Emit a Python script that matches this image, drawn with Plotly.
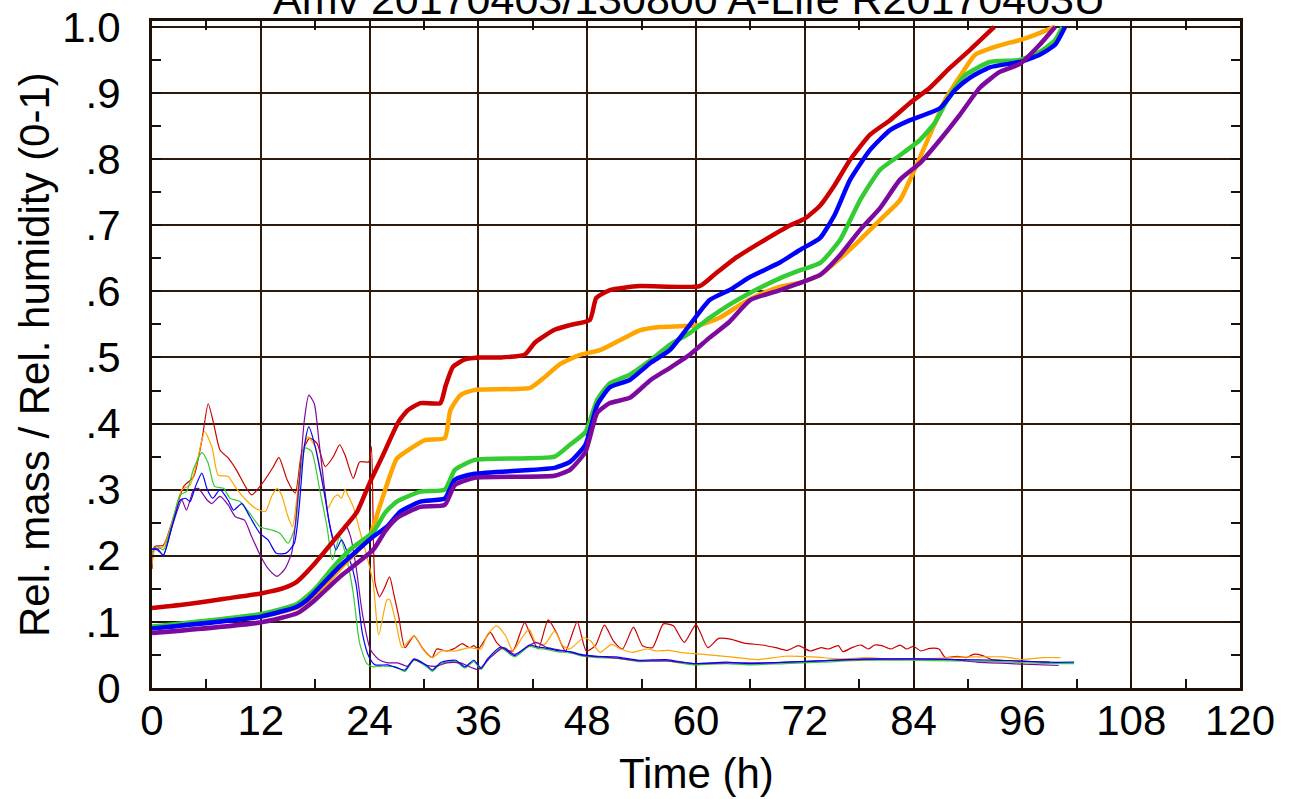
import plotly.graph_objects as go

# ---------------- data ----------------
# Relative mass (thick lines)
t_red_mass = [0, 4, 8, 12, 14.5, 16, 17.8, 20.7, 22.6, 24, 25.4, 27.2, 28.2, 29.6, 31.8, 32.4, 33.2, 34.5, 36, 38.4, 41.1, 42.2, 43, 44.4, 46.1, 48.3, 49, 50.5, 53.8, 60.4, 62, 64.3, 67, 70.4, 72, 73.7, 75.3, 77, 79.2, 81.4, 83.6, 85.8, 88, 90.2, 92.9]
red_mass = [0.121, 0.127, 0.135, 0.143, 0.151, 0.161, 0.186, 0.234, 0.266, 0.31, 0.35, 0.403, 0.42, 0.431, 0.431, 0.458, 0.486, 0.497, 0.5, 0.5, 0.504, 0.522, 0.53, 0.542, 0.549, 0.557, 0.59, 0.602, 0.608, 0.608, 0.625, 0.65, 0.673, 0.70, 0.71, 0.73, 0.761, 0.799, 0.837, 0.859, 0.885, 0.908, 0.938, 0.965, 1.0]

t_orange_mass = [0, 12, 16, 18, 20.7, 22.5, 24, 25.1, 27, 28.5, 30.1, 32.3, 32.9, 34, 35.6, 41.7, 43.3, 45, 47.2, 49.4, 51.6, 53.8, 56, 60.4, 62.6, 64.9, 67, 69.3, 71.5, 73.7, 75.9, 78.1, 80.3, 82.5, 84.1, 85.8, 87.5, 89.1, 90.8, 93.5, 95.7, 97.4, 99.6]
orange_mass = [0.091, 0.108, 0.122, 0.14, 0.18, 0.205, 0.229, 0.274, 0.347, 0.362, 0.375, 0.378, 0.42, 0.443, 0.451, 0.454, 0.47, 0.49, 0.504, 0.511, 0.526, 0.541, 0.546, 0.549, 0.56, 0.58, 0.595, 0.607, 0.613, 0.625, 0.65, 0.678, 0.708, 0.738, 0.784, 0.837, 0.89, 0.925, 0.958, 0.972, 0.98, 0.988, 1.0]

t_green_mass = [0, 12, 16, 18, 20, 22, 24.4, 25.7, 27, 29.6, 32.3, 33.4, 35.6, 44.4, 46.1, 47.8, 49.1, 50.5, 52.7, 55, 57.1, 59.3, 61.5, 63.7, 66, 69.3, 71.5, 73.7, 75.9, 78.1, 80.3, 82.5, 84.7, 86.4, 88, 89.7, 92.4, 95.7, 97.9, 99.6, 100.4]
green_mass = [0.093, 0.112, 0.127, 0.15, 0.183, 0.211, 0.236, 0.265, 0.282, 0.297, 0.3, 0.33, 0.345, 0.35, 0.368, 0.387, 0.436, 0.461, 0.474, 0.496, 0.519, 0.537, 0.56, 0.58, 0.598, 0.62, 0.632, 0.643, 0.678, 0.738, 0.784, 0.806, 0.829, 0.856, 0.897, 0.927, 0.947, 0.95, 0.962, 0.98, 1.0]

t_blue_mass = [0, 12, 16, 17.1, 20.7, 24.4, 25.9, 27.4, 29.6, 32.3, 33.4, 35.6, 44.4, 46.1, 47.8, 49.1, 50.5, 52.7, 55, 57.1, 59.3, 61.5, 63.7, 66, 69.3, 71.5, 73.7, 75.3, 77, 79.2, 81.4, 83.6, 86.9, 88.6, 90.2, 92.4, 95.7, 97.9, 99.6, 100.7]
blue_mass = [0.09, 0.108, 0.123, 0.133, 0.184, 0.229, 0.244, 0.267, 0.282, 0.287, 0.315, 0.324, 0.333, 0.342, 0.368, 0.428, 0.455, 0.466, 0.492, 0.511, 0.549, 0.587, 0.602, 0.622, 0.644, 0.663, 0.681, 0.716, 0.769, 0.814, 0.844, 0.859, 0.877, 0.905, 0.923, 0.939, 0.947, 0.958, 0.973, 1.0]

t_purple_mass = [0, 11.9, 16, 17.8, 20.7, 24.4, 25.7, 27, 29.6, 32.3, 33.4, 35.6, 44.4, 46.1, 47.8, 49.1, 50.5, 52.7, 55, 57.1, 59.3, 61.5, 63.7, 66, 69.3, 71.5, 73.7, 75.9, 78.1, 80.3, 82.5, 84.7, 86.9, 89.1, 91.3, 93.5, 95.7, 97.9, 99.6]
purple_mass = [0.083, 0.099, 0.113, 0.131, 0.168, 0.209, 0.237, 0.257, 0.274, 0.277, 0.307, 0.318, 0.321, 0.33, 0.357, 0.416, 0.431, 0.439, 0.466, 0.484, 0.504, 0.53, 0.554, 0.587, 0.602, 0.613, 0.625, 0.655, 0.693, 0.726, 0.769, 0.794, 0.829, 0.867, 0.908, 0.932, 0.944, 0.973, 1.0]

# Relative humidity (thin lines)
t_red_rh = [0, 0.3, 1.25, 2.4, 3.5, 4.6, 5.5, 6.2, 6.8, 7.5, 8.4, 9.3, 10.3, 11, 12.3, 13.4, 14, 14.9, 15.8, 16.5, 17.4, 18.2, 19.1, 20, 20.7, 21.3, 22.2, 22.9, 23.9, 24.2, 24.6, 25.1, 25.6, 26.2, 26.7, 27.2, 27.9, 28.9, 29.9, 30.9, 31.4, 32.5, 33.5, 34.2, 35, 35.5, 36, 37.3, 38, 38.8, 39.8, 41.1, 41.8, 42.6, 43.7, 44.6, 45.6, 46.9, 47.9, 48.9, 49.9, 50.9, 51.9, 53.1, 54.1, 55.2, 56.4, 57.5, 58.7, 60, 61.3, 62.5, 63.8, 65.3, 67.3, 68.8, 70.1, 71.3, 72.6, 73.8, 74.6, 75.7, 76.2, 77.2, 78.2, 79, 79.7, 80.5, 81.5, 82.5, 83.2, 84, 84.8, 85.8, 86.8, 87.5, 88.8, 89.8, 90.6, 91.6, 92.6, 95.1, 97.1, 99]
red_rh = [0.18, 0.214, 0.216, 0.26, 0.305, 0.32, 0.375, 0.43, 0.40, 0.36, 0.348, 0.33, 0.305, 0.292, 0.312, 0.335, 0.349, 0.315, 0.295, 0.355, 0.378, 0.37, 0.335, 0.35, 0.368, 0.352, 0.317, 0.342, 0.342, 0.365, 0.159, 0.138, 0.15, 0.168, 0.14, 0.109, 0.061, 0.079, 0.059, 0.046, 0.059, 0.056, 0.061, 0.067, 0.061, 0.064, 0.059, 0.084, 0.069, 0.059, 0.056, 0.099, 0.079, 0.059, 0.103, 0.084, 0.056, 0.1, 0.056, 0.064, 0.095, 0.071, 0.059, 0.092, 0.064, 0.061, 0.097, 0.094, 0.069, 0.096, 0.061, 0.075, 0.074, 0.068, 0.065, 0.061, 0.057, 0.064, 0.056, 0.061, 0.059, 0.064, 0.055, 0.061, 0.065, 0.059, 0.065, 0.064, 0.059, 0.065, 0.059, 0.063, 0.056, 0.06, 0.059, 0.046, 0.048, 0.046, 0.051, 0.049, 0.043, 0.041, 0.040, 0.039]

t_orange_rh = [0, 0.3, 1.25, 2.4, 3.3, 4.2, 5.1, 5.8, 6.6, 7.3, 8.4, 9.3, 10.4, 11.4, 12.5, 13.2, 13.8, 14.3, 15, 15.5, 16, 16.5, 17.2, 18, 18.7, 19.4, 20, 20.5, 20.9, 21.3, 21.6, 22.2, 22.9, 23.7, 24.4, 25, 25.9, 26.2, 26.9, 27.6, 28.9, 29.9, 30.9, 31.9, 33.5, 35, 36.3, 37, 38, 39, 39.8, 40.8, 41.6, 42.3, 43.3, 44.4, 45.3, 46.1, 47.6, 48.4, 49.4, 50.7, 51.7, 53, 54.5, 55.7, 57, 58.2, 60.8, 63.8, 66.8, 69.8, 72.9, 75.9, 78.9, 81.9, 84.9, 88, 91, 94, 96, 98.2, 100.2]
orange_rh = [0.186, 0.209, 0.214, 0.259, 0.3, 0.307, 0.35, 0.388, 0.365, 0.322, 0.32, 0.302, 0.284, 0.272, 0.267, 0.29, 0.302, 0.292, 0.259, 0.244, 0.29, 0.35, 0.38, 0.365, 0.32, 0.272, 0.287, 0.292, 0.287, 0.3, 0.292, 0.274, 0.239, 0.199, 0.158, 0.08, 0.133, 0.134, 0.099, 0.061, 0.079, 0.059, 0.046, 0.056, 0.056, 0.061, 0.059, 0.081, 0.094, 0.079, 0.056, 0.076, 0.089, 0.069, 0.066, 0.086, 0.064, 0.059, 0.076, 0.071, 0.054, 0.066, 0.059, 0.054, 0.059, 0.056, 0.057, 0.054, 0.051, 0.047, 0.043, 0.048, 0.047, 0.044, 0.046, 0.043, 0.044, 0.046, 0.047, 0.047, 0.043, 0.046, 0.046]

t_green_rh = [0, 0.5, 1.25, 2.2, 3.1, 3.8, 4.6, 5.5, 6.2, 6.9, 7.9, 8.6, 9.7, 10.8, 11.9, 13.2, 14.1, 15, 15.8, 16.3, 16.9, 17.6, 18.5, 19.3, 19.9, 20.7, 21.5, 22.2, 22.9, 23.7, 24.4, 25.4, 26.9, 27.9, 28.9, 30.4, 30.9, 31.9, 33.5, 34.5, 35.5, 36.3, 37, 38.5, 40, 41.6, 42.6, 43.6, 44.6, 46.1, 47.6, 49.1, 51.2, 53.7, 56.7, 59.7, 63.3, 65.8, 69.8, 73.8, 78.4, 83.5, 88.5, 93.6, 98.6, 101.7]
green_rh = [0.205, 0.214, 0.209, 0.249, 0.292, 0.297, 0.332, 0.356, 0.34, 0.305, 0.302, 0.287, 0.282, 0.264, 0.244, 0.239, 0.234, 0.219, 0.244, 0.315, 0.363, 0.358, 0.3, 0.244, 0.194, 0.229, 0.194, 0.143, 0.068, 0.037, 0.032, 0.033, 0.032, 0.025, 0.042, 0.031, 0.025, 0.037, 0.040, 0.030, 0.040, 0.028, 0.042, 0.060, 0.047, 0.063, 0.060, 0.058, 0.055, 0.053, 0.048, 0.046, 0.045, 0.040, 0.041, 0.035, 0.037, 0.035, 0.037, 0.039, 0.042, 0.042, 0.041, 0.040, 0.037, 0.037]

t_blue_rh = [0, 0.6, 1.25, 2.2, 3.1, 3.7, 4.2, 4.8, 5.5, 6.1, 6.7, 7.5, 8.4, 9, 9.9, 10.8, 11.9, 12.8, 13.7, 14.8, 15.7, 16.2, 16.8, 17.3, 18, 19, 19.7, 20.3, 20.9, 21.7, 22.5, 23.2, 23.9, 24.6, 26, 27.1, 27.9, 28.9, 30.4, 30.9, 31.9, 33.5, 34.5, 35.5, 36.3, 37, 38.5, 40, 41.6, 42.6, 43.6, 44.6, 46.1, 47.6, 49.1, 51.2, 53.7, 56.7, 59.7, 63.3, 65.8, 69.8, 73.8, 78.4, 83.5, 88.5, 93.6, 98.6, 101.7]
blue_rh = [0.21, 0.209, 0.201, 0.244, 0.284, 0.287, 0.282, 0.305, 0.325, 0.3, 0.287, 0.3, 0.284, 0.269, 0.279, 0.259, 0.234, 0.224, 0.204, 0.204, 0.219, 0.269, 0.365, 0.395, 0.365, 0.295, 0.239, 0.209, 0.224, 0.199, 0.158, 0.083, 0.048, 0.035, 0.035, 0.03, 0.027, 0.044, 0.033, 0.027, 0.039, 0.042, 0.032, 0.042, 0.030, 0.044, 0.062, 0.049, 0.065, 0.062, 0.060, 0.057, 0.055, 0.050, 0.048, 0.047, 0.042, 0.043, 0.037, 0.039, 0.037, 0.039, 0.041, 0.044, 0.044, 0.043, 0.042, 0.039, 0.039]

t_purple_rh = [0, 0.6, 1.25, 2.2, 3.3, 3.8, 4.6, 5.1, 6.1, 6.6, 7.5, 8.4, 9.2, 10.2, 10.9, 12, 12.9, 13.8, 14.6, 15.4, 16.2, 16.8, 17.3, 17.9, 18.4, 19, 19.5, 20.1, 20.6, 21.3, 21.9, 22.5, 23.2, 24.1, 25, 26, 27.1, 28.2, 28.9, 30.4, 31.4, 32.5, 34, 36, 37.3, 38.8, 40, 42.3, 43.6, 45.6, 47.6, 50.7, 53.7, 56.7, 59.7, 63.8, 68.3, 73.4, 78.4, 83.5, 88.5, 91, 96.1, 100]
purple_rh = [0.21, 0.211, 0.201, 0.244, 0.284, 0.269, 0.3, 0.302, 0.284, 0.279, 0.29, 0.277, 0.259, 0.254, 0.232, 0.199, 0.179, 0.169, 0.179, 0.204, 0.305, 0.405, 0.443, 0.43, 0.375, 0.305, 0.254, 0.224, 0.229, 0.247, 0.229, 0.184, 0.113, 0.058, 0.043, 0.038, 0.038, 0.033, 0.043, 0.034, 0.033, 0.038, 0.038, 0.028, 0.046, 0.061, 0.051, 0.069, 0.061, 0.056, 0.049, 0.046, 0.041, 0.041, 0.037, 0.038, 0.038, 0.041, 0.043, 0.044, 0.043, 0.039, 0.036, 0.034]

x_tick_vals = [0, 12, 24, 36, 48, 60, 72, 84, 96, 108, 120]
x_tick_text = ["0", "12", "24", "36", "48", "60", "72", "84", "96", "108", "120"]
y_tick_vals = [0, 0.1, 0.2, 0.3, 0.4, 0.5, 0.6, 0.7, 0.8, 0.9, 1.0]
y_tick_text = ["0", ".1", ".2", ".3", ".4", ".5", ".6", ".7", ".8", ".9", "1.0"]

title_text = "Amv 20170403/130800 A-Life R20170403U"
x_title = "Time (h)"
y_title = "Rel. mass / Rel. humidity (0-1)"

# ---------------- figure ----------------
colors = {"red": "#cc0000", "orange": "#ffa500", "green": "#33cc33",
          "blue": "#0000ff", "purple": "#7d0a9e"}

rh_series = [("red", t_red_rh, red_rh), ("orange", t_orange_rh, orange_rh),
             ("green", t_green_rh, green_rh), ("purple", t_purple_rh, purple_rh),
             ("blue", t_blue_rh, blue_rh)]
mass_series = [("red", t_red_mass, red_mass), ("orange", t_orange_mass, orange_mass),
               ("green", t_green_mass, green_mass), ("blue", t_blue_mass, blue_mass),
               ("purple", t_purple_mass, purple_mass)]

fig = go.Figure()
for name, t, v in rh_series:
    fig.add_trace(go.Scatter(x=t, y=v, mode="lines", name=name + " RH",
                             line=dict(color=colors[name], width=1.2, shape="spline", smoothing=0.6),
                             showlegend=False))
for name, t, v in mass_series:
    fig.add_trace(go.Scatter(x=t, y=v, mode="lines", name=name + " mass",
                             line=dict(color=colors[name], width=4.5, shape="spline", smoothing=0.5),
                             showlegend=False))

grid_col = "#2e1a0c"
axis_col = "#1e1006"
font_family = "Liberation Sans, Arial, sans-serif"

fig.update_layout(
    width=1292, height=799,
    margin=dict(l=152, r=52, t=21, b=111),
    paper_bgcolor="white", plot_bgcolor="white",
    font=dict(family=font_family, size=42, color="black"),
    showlegend=False,
)
fig.update_xaxes(
    range=[0, 120], tickvals=x_tick_vals, ticktext=x_tick_text, automargin=False,
    showgrid=True, gridcolor=grid_col, gridwidth=1.6,
    showline=True, linecolor=axis_col, linewidth=3, mirror="allticks",
    ticks="inside", ticklen=9, tickwidth=2, tickcolor=axis_col,
    minor=dict(dtick=6, tick0=0, ticks="inside", ticklen=9, tickwidth=2, tickcolor=axis_col, showgrid=False),
    tickfont=dict(size=42, family=font_family, color="black"),
    ticklabelstandoff=-6, ticklabeloverflow="allow", zeroline=False,
)
fig.update_yaxes(
    range=[0, 1.009], tickvals=y_tick_vals, ticktext=y_tick_text, automargin=False,
    showgrid=True, gridcolor=grid_col, gridwidth=1.6,
    showline=True, linecolor=axis_col, linewidth=3, mirror="allticks",
    ticks="inside", ticklen=9, tickwidth=2, tickcolor=axis_col,
    minor=dict(dtick=0.05, tick0=0, ticks="inside", ticklen=9, tickwidth=2, tickcolor=axis_col, showgrid=False),
    tickfont=dict(size=42, family=font_family, color="black"),
    ticklabelstandoff=20, ticklabeloverflow="allow", zeroline=False,
)

fig.add_annotation(text=title_text, xref="paper", yref="paper", x=0.494, y=0.994,
                   xanchor="center", yanchor="bottom", showarrow=False,
                   font=dict(size=43, family=font_family, color="black"))
fig.add_annotation(text=x_title, xref="paper", yref="paper", x=0.5, y=-0.128,
                   xanchor="center", yanchor="middle", showarrow=False,
                   font=dict(size=42, family=font_family, color="black"))
fig.add_annotation(text=y_title, xref="paper", yref="paper", x=-0.108, y=0.5,
                   xanchor="center", yanchor="middle", showarrow=False, textangle=-90,
                   font=dict(size=42, family=font_family, color="black"))

# remove the browser's default 8px body margin so the figure sits at the page origin
fig.write_html("out.html", config={"displayModeBar": False},
               post_script="document.body.style.margin='0';")
